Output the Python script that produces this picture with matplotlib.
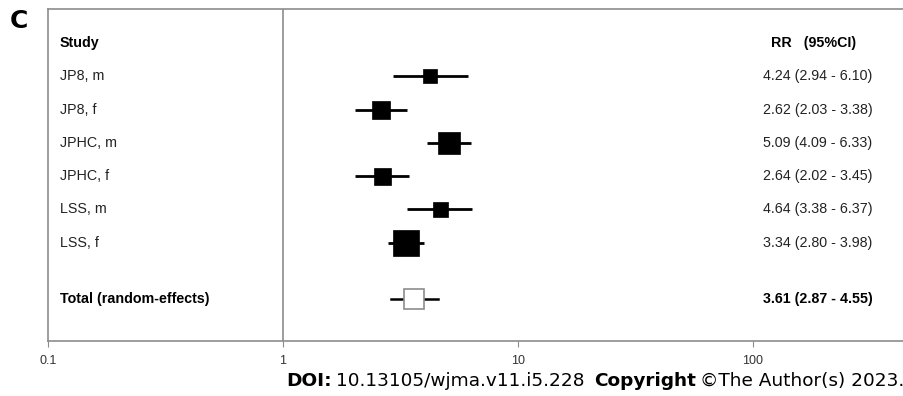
import matplotlib
matplotlib.use("Agg")
import matplotlib.pyplot as plt

studies = ["JP8, m", "JP8, f", "JPHC, m", "JPHC, f", "LSS, m", "LSS, f"]
rr = [4.24, 2.62, 5.09, 2.64, 4.64, 3.34]
lo = [2.94, 2.03, 4.09, 2.02, 3.38, 2.80]
hi = [6.10, 3.38, 6.33, 3.45, 6.37, 3.98]
box_px = [14, 18, 22, 17, 15, 27]          # relative study weights, drawn as box side
total_label = "Total (random-effects)"
total_rr, total_lo, total_hi = 3.61, 2.87, 4.55
total_box_px = 20
xticks = [0.1, 1, 10, 100]

W, H, DPI = 904, 396, 100
plt.rcParams["font.family"] = ["Liberation Sans", "DejaVu Sans"]
fig = plt.figure(figsize=(W / DPI, H / DPI), dpi=DPI)
# axes box: left spine x=48px, top y=9px, bottom y=341px, runs off the right edge
ax = fig.add_axes([48 / W, 1 - 341 / H, 1 - 48 / W, (341 - 9) / H])
ax.set_xscale("log")
ax.set_xlim(0.1, 10 ** (-1 + (W - 48) / 235))
ax.set_ylim(8.95, -1.02)

GREY = "#8c8c8c"
for s in ["left", "top", "bottom"]:
    ax.spines[s].set_color(GREY)
    ax.spines[s].set_linewidth(1.2)
ax.spines["right"].set_visible(False)
ax.set_yticks([])
ax.set_xticks(xticks)
ax.set_xticklabels(["0.1", "1", "10", "100"])
ax.minorticks_off()
ax.tick_params(axis="x", length=4, color=GREY, labelsize=9, labelcolor="#333333", pad=6)
ax.axvline(1, color=GREY, lw=1.2)

px2pt = 72 / DPI
ys = list(range(1, len(studies) + 1))
for y, r, l, h, b in zip(ys, rr, lo, hi, box_px):
    ax.plot([l, h], [y, y], color="black", lw=2.0, solid_capstyle="butt", zorder=2)
    ax.plot(r, y, marker="s", ms=b * px2pt, color="black", mec="black", mew=0.5, zorder=3)

ytot = 7.7
ax.plot([total_lo, total_hi], [ytot, ytot], color="black", lw=1.8, zorder=2)
ax.plot(total_rr, ytot, marker="s", ms=total_box_px * px2pt, mfc="white", mec=GREY, mew=1.2, zorder=3)

tr = ax.get_yaxis_transform()
xl = (60 - 48) / (W - 48)
xr = (763 - 48) / (W - 48)
fs = 10.3
ax.text(xl, 0, "Study", transform=tr, ha="left", va="center", fontsize=fs, fontweight="bold")
ax.text(xr + 0.009, 0, "RR   (95%CI)", transform=tr, ha="left", va="center", fontsize=fs, fontweight="bold")
for y, name, r, l, h in zip(ys, studies, rr, lo, hi):
    ax.text(xl, y, name, transform=tr, ha="left", va="center", fontsize=fs, color="#222222")
    ax.text(xr, y, f"{r:.2f} ({l:.2f} - {h:.2f})", transform=tr, ha="left", va="center", fontsize=fs, color="#222222")
ax.text(xl, ytot, total_label, transform=tr, ha="left", va="center", fontsize=fs, fontweight="bold")
ax.text(xr, ytot, f"{total_rr:.2f} ({total_lo:.2f} - {total_hi:.2f})", transform=tr,
        ha="left", va="center", fontsize=fs, fontweight="bold")

fig.text(10 / W, 1 - 21 / H, "C", ha="left", va="center", fontsize=18, fontweight="bold",
         family="DejaVu Sans")

# DOI / copyright footer, pieces laid end to end
cfs = 13.3
yfoot = 1 - 381 / H
t1 = fig.text(286 / W, yfoot, "DOI:", ha="left", va="center", fontsize=cfs,
              fontweight="bold", family="DejaVu Sans")
fig.canvas.draw()
bb = t1.get_window_extent()
t2 = fig.text((bb.x1 + 4) / W, yfoot, "10.13105/wjma.v11.i5.228", ha="left", va="center",
              fontsize=cfs, family="DejaVu Sans")
bb = t2.get_window_extent()
t3 = fig.text((bb.x1 + 10) / W, yfoot, "Copyright", ha="left", va="center", fontsize=cfs,
              fontweight="bold", family="DejaVu Sans")
bb = t3.get_window_extent()
fig.text((bb.x1 + 4) / W, yfoot, "\u00a9The Author(s) 2023.", ha="left", va="center",
         fontsize=cfs, family="DejaVu Sans")

fig.savefig("out.png", dpi=DPI)
